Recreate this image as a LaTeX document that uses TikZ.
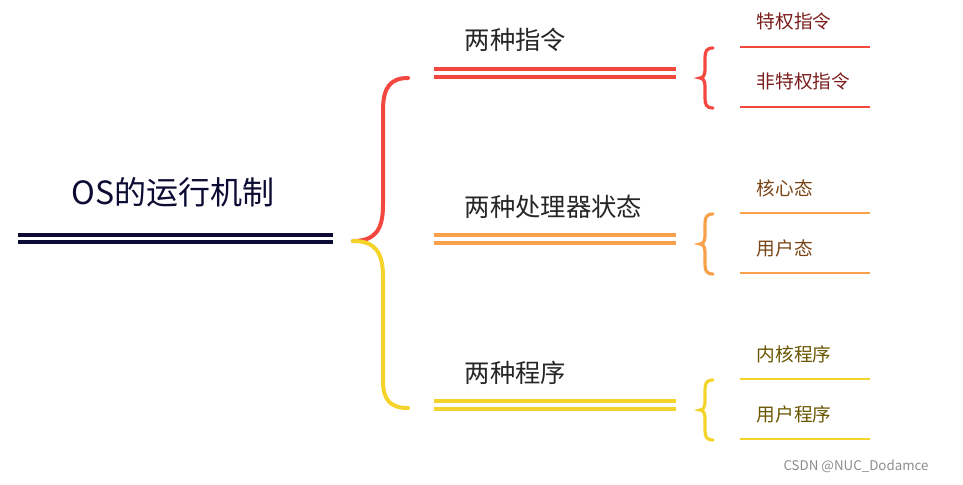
\documentclass[tikz,border=0pt]{standalone}
\usepackage{fontspec}
\setmainfont{Noto Sans CJK SC}
\begin{document}
\begin{tikzpicture}[x=0.75pt,y=-0.75pt]
\definecolor{cr}{HTML}{F4473F}
\definecolor{co}{HTML}{F8A04A}
\definecolor{cy}{HTML}{F4D42A}
\definecolor{tr}{HTML}{7A1E1E}
\definecolor{to}{HTML}{7A4516}
\definecolor{ty}{HTML}{6A5600}
\definecolor{nv}{HTML}{0B0B33}
\tikzset{dl/.style={line width=2.6pt},br/.style={line width=3pt,line cap=round},
 lf/.style={line width=2.2pt},
 t1/.style={anchor=base west,font=\fontsize{19}{20}\selectfont,text=black!85},
 t2/.style={anchor=base west,font=\fontsize{14}{16}\selectfont}}
\useasboundingbox (0,0) rectangle (963,485);
\node[font=\fontsize{24}{26}\selectfont,text=nv] (root) at (173,192) {OS的运行机制};
\draw[nv,line width=3pt] (18,235) -- (333,235) (18,242) -- (333,242);
\coordinate (j) at (353,241);
\draw[br,cr] (j) .. controls (375,241) and (383,230) .. (383,205) -- (383,110) .. controls (383,88) and (390,78) .. (408,78);
\draw[br,cy] (j) .. controls (375,241) and (383,252) .. (383,277) -- (383,380) .. controls (383,400) and (390,408) .. (408,408);
\foreach \y/\c/\tc/\lab/\la/\lb in {69/cr/tr/两种指令/特权指令/非特权指令, 235/co/to/两种处理器状态/核心态/用户态, 401/cy/ty/两种程序/内核程序/用户程序}{
 \draw[\c,line width=2.4pt] (434,\y) -- (676,\y) (434,\y+8) -- (676,\y+8);
 \node[t1] at (460,\y-19) {\lab};
 \pgfmathsetmacro\m{\y+9}
 \draw[\c,br,line width=2.4pt] (713,\m-30) .. controls (706,\m-30) and (705,\m-26) .. (705,\m-20) -- (705,\m-8) .. controls (705,\m-3) and (703,\m) .. (700,\m) .. controls (703,\m) and (705,\m+3) .. (705,\m+8) -- (705,\m+20) .. controls (705,\m+26) and (706,\m+30) .. (713,\m+30);
 \draw[\c,lf] (740,\m-31) -- (870,\m-31) (740,\m+29) -- (870,\m+29);
 \node[t2,text=\tc] at (752,\m-49) {\la};
 \node[t2,text=\tc] at (752,\m+11) {\lb};
}
\node[font=\fontsize{10}{12}\selectfont,text=black!45] (wm) at (856,466) {CSDN @NUC\_Dodamce};
\end{tikzpicture}
\end{document}
